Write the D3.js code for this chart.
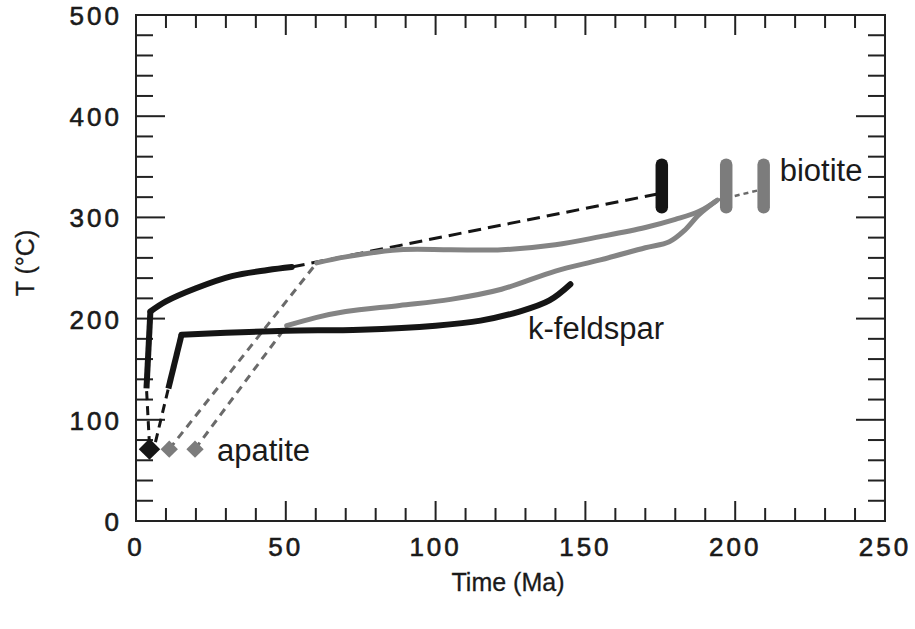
<!DOCTYPE html>
<html>
<head>
<meta charset="utf-8">
<script src="https://cdn.jsdelivr.net/npm/d3@7"></script>
<style>
  body { margin: 0; background: #fff; }
  svg text { font-family: "Liberation Sans", Arial, sans-serif; fill: #1a1a1a; }
  .num { stroke: #1a1a1a; stroke-width: 0.6px; }
</style>
</head>
<body>
<svg width="915" height="629"></svg>
<script>
// tick values
const xTicks = [0, 50, 100, 150, 200, 250];
const yTicks = [0, 100, 200, 300, 400, 500];

// black sample: solid cooling path, dashed extension to biotite, dashed to apatite
const blackSteep = [[3.5, 131], [4.8, 207]];
const blackCurve = [[4.8, 207], [10, 217], [20, 230], [32, 242], [44, 248], [52, 251]];
const blackToBiotite = [[52, 251], [175.5, 324]];
const blackToApatite = [[4.5, 75], [3.5, 131]];

// k-feldspar path
const kfsSteep = [[10.8, 131], [15.2, 184]];
const kfsCurve = [[15.2, 184], [30, 186], [50, 188], [75, 189], [100, 193], [115, 198], [128, 207], [138, 218], [145, 234]];
const kfsToApatite = [[6.5, 78], [10.8, 131]];

// grey samples
const greyUpper = [[60.3, 255], [70, 261], [88, 268], [105, 268], [122, 268], [140, 273], [155, 281], [170, 290], [180, 298], [188, 306], [194, 317]];
const greyLower = [[50.3, 193], [60, 201], [70, 207], [88, 213], [105, 219], [122, 229], [140, 247], [155, 258], [170, 270], [178, 276], [183, 287], [188, 303], [193.5, 316]];
const greyDashUpper = [[11.1, 71], [60.3, 255]];
const greyDashLower = [[19.7, 71], [50.3, 193]];
const greyDashBiotite = [[194, 317], [209.5, 328]];

// biotite ages (bars) and apatite ages (diamonds)
const biotiteAge = [175.5, 197, 209.5];
const biotiteT = [310, 352];
const biotiteColor = ["#151515", "#7c7c7c", "#7c7c7c"];
const apatiteAge = [4.5, 11.1, 19.7];
const apatiteT = 71;
const apatiteColor = ["#151515", "#7c7c7c", "#7c7c7c"];

const svg = d3.select("svg"),
  margin = { top: 15, right: 30, bottom: 108, left: 136 },
  width = +svg.attr("width") - margin.left - margin.right,
  height = +svg.attr("height") - margin.top - margin.bottom;

const x = d3.scaleLinear().domain([0, 250]).range([0, width]);
const y = d3.scaleLinear().domain([0, 500]).range([height, 0]);

const g = svg.append("g")
  .attr("transform", "translate(" + margin.left + "," + margin.top + ")");

const line = d3.line().x(d => x(d[0])).y(d => y(d[1]));
const smooth = d3.line().x(d => x(d[0])).y(d => y(d[1])).curve(d3.curveCatmullRom.alpha(0.5));

// frame
g.append("rect")
  .attr("width", width).attr("height", height)
  .attr("fill", "none").attr("stroke", "#222").attr("stroke-width", 2);

// ticks pointing inward on all four sides
const xMinor = d3.range(0, 251, 10);
const yMinor = d3.range(0, 501, 20);
const ticks = g.append("g").attr("stroke", "#222").attr("stroke-width", 2);
xMinor.forEach(v => {
  const len = v % 50 === 0 ? 20 : 13;
  ticks.append("line").attr("x1", x(v)).attr("x2", x(v)).attr("y1", height).attr("y2", height - len);
  ticks.append("line").attr("x1", x(v)).attr("x2", x(v)).attr("y1", 0).attr("y2", len);
});
yMinor.forEach(v => {
  const len = v % 100 === 0 ? 29 : 17;
  ticks.append("line").attr("y1", y(v)).attr("y2", y(v)).attr("x1", 0).attr("x2", len);
  ticks.append("line").attr("y1", y(v)).attr("y2", y(v)).attr("x1", width).attr("x2", width - len);
});

// tick labels
g.selectAll(".xlab").data(xTicks).enter().append("text")
  .attr("class", "num")
  .attr("x", d => x(d)).attr("y", height + 35)
  .attr("text-anchor", "middle")
  .style("font-size", "26px").style("letter-spacing", "3px")
  .text(d => d);
g.selectAll(".ylab").data(yTicks).enter().append("text")
  .attr("class", "num")
  .attr("x", -14).attr("y", d => y(d) + 10)
  .attr("text-anchor", "end")
  .style("font-size", "26px").style("letter-spacing", "3px")
  .text(d => d);

// axis titles
g.append("text")
  .attr("x", 372).attr("y", height + 70)
  .attr("text-anchor", "middle").style("font-size", "25px")
  .style("stroke", "#1a1a1a").style("stroke-width", "0.3px")
  .text("Time (Ma)");
svg.append("text")
  .attr("transform", "translate(34,263) rotate(-90)")
  .attr("text-anchor", "middle").style("font-size", "25px")
  .style("stroke", "#1a1a1a").style("stroke-width", "0.3px")
  .text("T (°C)");

// dashed connectors
const dashed = [
  { d: blackToBiotite, c: "#151515", w: 3, a: "13,7" },
  { d: blackToApatite, c: "#151515", w: 3, a: "9,6" },
  { d: kfsToApatite, c: "#151515", w: 3, a: "9,6" },
  { d: greyDashUpper, c: "#6a6a6a", w: 3, a: "8,6" },
  { d: greyDashLower, c: "#6a6a6a", w: 3, a: "8,6" },
  { d: greyDashBiotite, c: "#6a6a6a", w: 2.5, a: "5,4" }
];
g.selectAll(".dash").data(dashed).enter().append("path")
  .attr("d", d => line(d.d))
  .attr("fill", "none").attr("stroke", d => d.c)
  .attr("stroke-width", d => d.w).attr("stroke-dasharray", d => d.a);

// grey solid paths
[greyUpper, greyLower].forEach(p => {
  g.append("path").attr("d", smooth(p))
    .attr("fill", "none").attr("stroke", "#848484").attr("stroke-width", 5)
    .attr("stroke-linecap", "round");
});

// black solid paths
[blackSteep, kfsSteep].forEach(p => {
  g.append("path").attr("d", line(p))
    .attr("fill", "none").attr("stroke", "#151515").attr("stroke-width", 6)
    .attr("stroke-linejoin", "round");
});
[blackCurve, kfsCurve].forEach(p => {
  g.append("path").attr("d", smooth(p))
    .attr("fill", "none").attr("stroke", "#151515").attr("stroke-width", 6)
    .attr("stroke-linecap", "round");
});

// biotite bars
g.selectAll(".bio").data(biotiteAge).enter().append("line")
  .attr("x1", d => x(d)).attr("x2", d => x(d))
  .attr("y1", y(biotiteT[0])).attr("y2", y(biotiteT[1]))
  .attr("stroke", (d, i) => biotiteColor[i])
  .attr("stroke-width", 12.5).attr("stroke-linecap", "round");

// apatite diamonds
g.selectAll(".ap").data(apatiteAge).enter().append("path")
  .attr("d", (d, i) => d3.symbol().type(d3.symbolSquare).size(i === 0 ? 230 : 150)())
  .attr("transform", d => "translate(" + x(d) + "," + y(apatiteT) + ") rotate(45)")
  .attr("fill", (d, i) => apatiteColor[i]);

// labels
g.append("text").attr("x", x(209.5) + 16).attr("y", 166).style("font-size", "31px").text("biotite");
g.append("text").attr("x", 392).attr("y", 324).style("font-size", "31px").text("k-feldspar");
g.append("text").attr("x", 81).attr("y", 446).style("font-size", "31px").text("apatite");
</script>
</body>
</html>
